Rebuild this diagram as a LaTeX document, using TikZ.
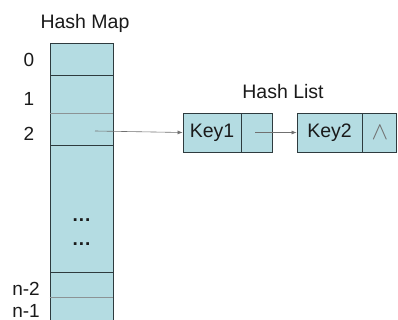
\documentclass[tikz,border=0pt]{standalone}
\usepackage{fontspec}
\setmainfont{Liberation Sans}
\usepackage{xcolor}
\usepackage{tikz}
\usetikzlibrary{positioning, arrows.meta}
\definecolor{slot}{HTML}{B4DCE2}
\definecolor{edge}{HTML}{2E3B3E}
\definecolor{link}{HTML}{707070}
\definecolor{ink}{HTML}{1A1A1A}

\tikzset{
  cell/.style={draw=edge, fill=slot, line width=0.8pt, inner sep=0pt, minimum width=63pt},
  keybox/.style={draw=edge, fill=slot, line width=0.8pt, inner sep=0pt, minimum height=39pt},
  idx/.style={anchor=center, font=\fontsize{19}{21}\selectfont},
  ptr/.style={draw=link, line width=0.6pt, -{Latex[length=5pt,width=4pt]}, shorten >=0pt},
  thinrule/.style={draw=edge!55, line width=0.6pt}
}

\begin{document}
\begin{tikzpicture}[x=1pt, y=-1pt, font=\fontsize{19.5}{22}\selectfont, text=ink]
  \useasboundingbox (0,0) rectangle (398,320);
  % hash map column
  \node[cell, minimum height=32pt] (m0) at (81.5,59) {};
  \node[cell, minimum height=38pt] (m1) at (81.5,94) {};
  \node[cell, minimum height=32pt] (m2) at (81.5,129) {};
  \node[cell, minimum height=127pt] (mgap) at (81.5,208.5) {};
  \node[cell, minimum height=25pt] (mn2) at (81.5,284.5) {};
  \node[cell, minimum height=40pt] (mn1) at (81.5,317) {};
  \draw[thinrule] (m1.south west) -- (m1.south east);
  \draw[thinrule] (mn2.south west) -- (mn2.south east);
  \node[idx] at (mgap.center) [yshift=-12pt] {\textbf{.\kern1pt.\kern1pt.}};
  \node[idx] at (mgap.center) [yshift=-36pt] {\textbf{.\kern1pt.\kern1pt.}};
  \coordinate (m2out) at (95,131);

  \node (maptitle) at (85,23) {Hash Map};
  \node[idx] (l0) at (29,60) {0};
  \node[idx] (l1) at (29,99) {1};
  \node[idx] (l2) at (29,134) {2};
  \node[idx] (ln2) at (26,289) {n-2};
  \node[idx] (ln1) at (26,311) {n-1};

  % hash list
  \node (listtitle) at (283,92) {Hash List};
  \node[keybox, minimum width=58pt] (key1) at (212,132.5) {Key1};
  \node[keybox, minimum width=31pt, right=0pt of key1] (key1next) {};
  \node[keybox, minimum width=65pt] (key2) at (329.5,132.5) {Key2};
  \node[keybox, minimum width=34pt, right=0pt of key2, text=link] (key2next) {\scalebox{1.2}{$\wedge$}};
  \coordinate (key1out) at ([xshift=-2pt]key1next.center);

  \draw[ptr] (m2out) -- (key1.west);
  \draw[ptr] (key1out) -- (key2.west);
\end{tikzpicture}
\end{document}
